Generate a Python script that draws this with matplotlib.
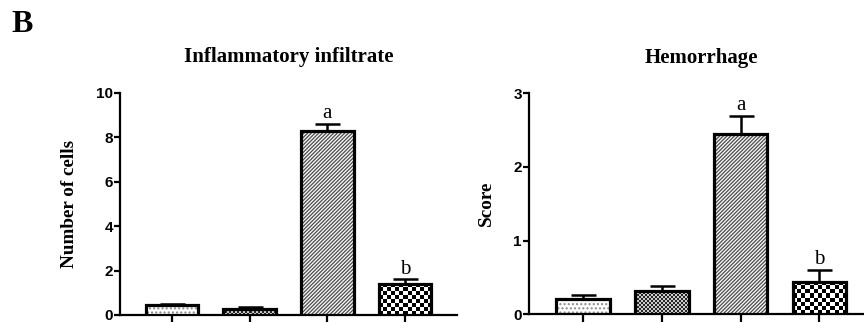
import numpy as np
import matplotlib
matplotlib.use("Agg")
import matplotlib.pyplot as plt

# Data
groups = ["G1", "G2", "G3", "G4"]
infiltrate_mean = [0.44, 0.28, 8.29, 1.41]
infiltrate_err = [0.06, 0.07, 0.31, 0.20]
infiltrate_letters = ["", "", "a", "b"]
hemorrhage_mean = [0.21, 0.32, 2.45, 0.44]
hemorrhage_err = [0.05, 0.07, 0.24, 0.16]
hemorrhage_letters = ["", "", "a", "b"]

infiltrate_ticks = [0, 2, 4, 6, 8, 10]
hemorrhage_ticks = [0, 1, 2, 3]

SERIF = "Liberation Serif"
SANS = "Liberation Sans"

W, H, DPI = 864, 322, 100
fig = plt.figure(figsize=(W / DPI, H / DPI), dpi=DPI)

# fill styles per group
styles = [
    {"hatch": "....", "color": "#8a8a8a"},
    {"checker": 2.0, "dark": 0.15, "light": 0.8},
    {"hatch": "/////////", "color": "#555555"},
    {"checker": 4.0, "dark": 0.0, "light": 1.0},
]


def draw_panel(ax, means, errs, letters, ticks, ylim, title, ylabel, width, ylabel_x):
    x = np.arange(len(means))
    ax.set_xlim(x[0] - width, x[-1] + width)
    ax.set_ylim(*ylim)
    bw = 0.68
    # error bars (upper only)
    ax.errorbar(x, means, yerr=[np.zeros(len(errs)), errs], fmt="none",
                ecolor="black", elinewidth=1.8, capsize=9, capthick=1.8, zorder=2)
    bbox = ax.get_position()
    ax_w_px = bbox.width * W
    ax_h_px = bbox.height * H
    xr = ax.get_xlim()[1] - ax.get_xlim()[0]
    yr = ylim[1] - ylim[0]
    for i, (m, st) in enumerate(zip(means, styles)):
        if "checker" in st:
            base = ax.bar(x[i], m, bw, color="white", linewidth=0, zorder=3)[0]
            cell = st["checker"]
            ncol = max(1, int(round(bw * ax_w_px / xr / cell)))
            nrow = max(1, int(round(m * ax_h_px / yr / cell)))
            board = np.where(np.indices((nrow, ncol)).sum(axis=0) % 2 == 0,
                             st["dark"], st["light"])
            im = ax.imshow(board, cmap="gray", vmin=0, vmax=1, interpolation="nearest",
                           extent=(x[i] - bw / 2, x[i] + bw / 2, 0, m), aspect="auto",
                           origin="lower", zorder=3.5)
            im.set_clip_path(base)
        else:
            ax.bar(x[i], m, bw, color="white", edgecolor=st["color"], linewidth=0,
                   hatch=st["hatch"], zorder=3)
        ax.bar(x[i], m, bw, fill=False, edgecolor="black", linewidth=2.3, zorder=4)
    for i, (m, e, lab) in enumerate(zip(means, errs, letters)):
        if lab:
            ax.annotate(lab, (x[i], m + e), xytext=(0, 0.5), textcoords="offset points",
                        ha="center", va="bottom", fontsize=15, family=SERIF)
    ax.set_aspect("auto")
    ax.set_yticks(ticks)
    ax.set_xticks(x)
    ax.set_xticklabels([])
    for s in ["top", "right"]:
        ax.spines[s].set_visible(False)
    for s in ["left", "bottom"]:
        ax.spines[s].set_linewidth(1.6)
    ax.tick_params(axis="y", length=4, width=1.6, pad=1, labelsize=11)
    ax.tick_params(axis="x", length=6, width=1.6)
    for lab in ax.get_yticklabels():
        lab.set_fontfamily(SANS)
        lab.set_fontweight("bold")
    ax.set_title(title, fontsize=15, family=SERIF, fontweight="bold", pad=22)
    ax.set_ylabel(ylabel, fontsize=13.8, family=SERIF, fontweight="bold")
    ax.yaxis.set_label_coords(ylabel_x, 0.5)


ax1 = fig.add_axes([120 / W, 7 / H, 337 / W, 222 / H])
draw_panel(ax1, infiltrate_mean, infiltrate_err, infiltrate_letters, infiltrate_ticks,
           (0, 10), "Inflammatory infiltrate", "Number of cells", 0.671,
           (78 - 120) / 337)

ax2 = fig.add_axes([528.7 / W, 7.7 / H, 345 / W, 221 / H])
draw_panel(ax2, hemorrhage_mean, hemorrhage_err, hemorrhage_letters, hemorrhage_ticks,
           (0, 3), "Hemorrhage", "Score", 0.689, (495 - 528.7) / 345)

fig.text(22.5 / W, 1 - 25 / H, "B", fontsize=23, family=SERIF, fontweight="bold",
         ha="center", va="center")

fig.savefig("out.png", dpi=DPI)
